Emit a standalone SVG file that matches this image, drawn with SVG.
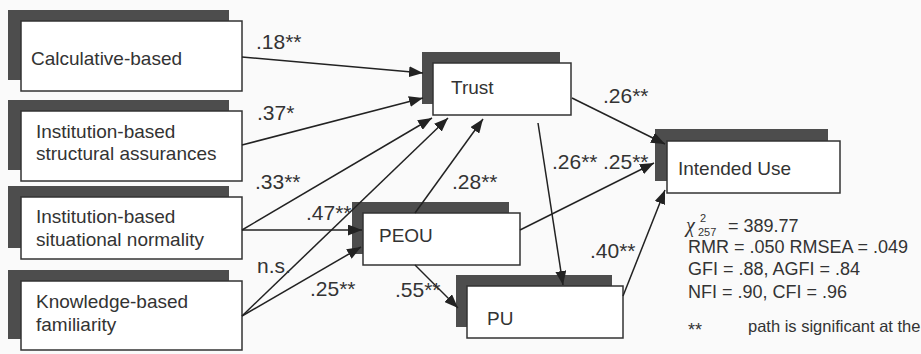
<svg xmlns="http://www.w3.org/2000/svg" width="921" height="354" viewBox="0 0 921 354">
<style>
.bg{fill:#fafafa}
.sh{fill:#4d4d4d}
.bx{fill:#ffffff;stroke:#333333;stroke-width:1.5}
.t{font-family:"Liberation Sans",Arial,sans-serif;font-size:19px;fill:#333333}
.lb{font-family:"Liberation Sans",Arial,sans-serif;font-size:21px;fill:#333333}
.st{font-family:"Liberation Sans",Arial,sans-serif;font-size:18px;fill:#333333}
.sm{font-family:"Liberation Sans",Arial,sans-serif;font-size:11px;fill:#333333}
.ln{stroke:#222222;stroke-width:1.5;fill:none;marker-end:url(#ah)}
</style>
<defs>
<marker id="ah" markerWidth="14" markerHeight="11" refX="14" refY="5.5" orient="auto" markerUnits="userSpaceOnUse">
<path d="M0,0 L14,5.5 L0,11 z" fill="#222222"/>
</marker>
</defs>
<rect class="bg" x="0" y="0" width="921" height="354"/>

<g id="calculative">
<rect class="sh" x="8" y="10" width="221" height="70"/>
<rect class="bx" x="21" y="21" width="221" height="70"/>
<text class="t" x="31" y="65">Calculative-based</text>
</g>
<g id="structural">
<rect class="sh" x="8" y="100" width="221" height="70"/>
<rect class="bx" x="21" y="111" width="221" height="70"/>
<text class="t" x="36" y="138">Institution-based</text>
<text class="t" x="36" y="160">structural assurances</text>
</g>
<g id="situational">
<rect class="sh" x="8" y="186" width="221" height="62"/>
<rect class="bx" x="21" y="197" width="221" height="62"/>
<text class="t" x="36" y="223">Institution-based</text>
<text class="t" x="36" y="246">situational normality</text>
</g>
<g id="knowledge">
<rect class="sh" x="8" y="270" width="221" height="69"/>
<rect class="bx" x="21" y="281" width="221" height="69"/>
<text class="t" x="36" y="308">Knowledge-based</text>
<text class="t" x="36" y="331">familiarity</text>
</g>
<g id="trust">
<rect class="sh" x="422" y="52" width="138" height="52"/>
<rect class="bx" x="433" y="63" width="138" height="52"/>
<text class="t" x="451" y="94">Trust</text>
</g>
<g id="peou">
<rect class="sh" x="352" y="202" width="157" height="52"/>
<rect class="bx" x="363" y="213" width="157" height="52"/>
<text class="t" x="379" y="242">PEOU</text>
</g>
<g id="pu">
<rect class="sh" x="456" y="275" width="156" height="52"/>
<rect class="bx" x="467" y="286" width="156" height="52"/>
<text class="t" x="487" y="325">PU</text>
</g>
<g id="intended">
<rect class="sh" x="655" y="129" width="173" height="52"/>
<rect class="bx" x="667" y="141" width="173" height="52"/>
<text class="t" x="678" y="175">Intended Use</text>
</g>

<g id="connectors">
<line class="ln" x1="242" y1="57" x2="423" y2="73"/>
<line class="ln" x1="242" y1="145" x2="423" y2="98"/>
<line class="ln" x1="242" y1="230" x2="432" y2="118"/>
<line class="ln" x1="242" y1="316" x2="448" y2="118"/>
<line class="ln" x1="415" y1="213" x2="483" y2="119"/>
<line class="ln" x1="242" y1="230" x2="362" y2="230"/>
<line class="ln" x1="242" y1="316" x2="361" y2="247"/>
<line class="ln" x1="538" y1="123" x2="563" y2="285"/>
<line class="ln" x1="415" y1="265" x2="458" y2="308"/>
<line class="ln" x1="572" y1="98" x2="665" y2="144"/>
<line class="ln" x1="520" y1="230" x2="654" y2="163"/>
<line class="ln" x1="623" y1="296" x2="665" y2="190"/>
</g>

<g id="labels">
<text class="lb" x="256" y="49">.18**</text>
<text class="lb" x="257" y="120">.37*</text>
<text class="lb" x="255" y="189">.33**</text>
<text class="lb" x="306" y="220">.47**</text>
<text class="lb" x="257" y="273">n.s.</text>
<text class="lb" x="310" y="296">.25**</text>
<text class="lb" x="395" y="297">.55**</text>
<text class="lb" x="452" y="189">.28**</text>
<text class="lb" x="603" y="103">.26**</text>
<text class="lb" x="552" y="169">.26**</text>
<text class="lb" x="603" y="169">.25**</text>
<text class="lb" x="590" y="258">.40**</text>
</g>

<g id="fit">
<text x="686" y="232" style="font-family:'Liberation Serif',serif;font-style:italic;font-size:20px;fill:#333333">χ</text>
<text class="sm" x="700" y="222">2</text>
<text class="sm" x="698" y="236">257</text>
<text class="st" x="728" y="232">= 389.77</text>
<text class="st" x="688" y="253">RMR = .050 RMSEA = .049</text>
<text class="st" x="688" y="275">GFI = .88, AGFI = .84</text>
<text class="st" x="688" y="298">NFI = .90, CFI = .96</text>
<text class="st" x="688" y="336">**</text>
<text class="st" x="748" y="332" style="font-size:16.5px">path is significant at the</text>
</g>
</svg>
